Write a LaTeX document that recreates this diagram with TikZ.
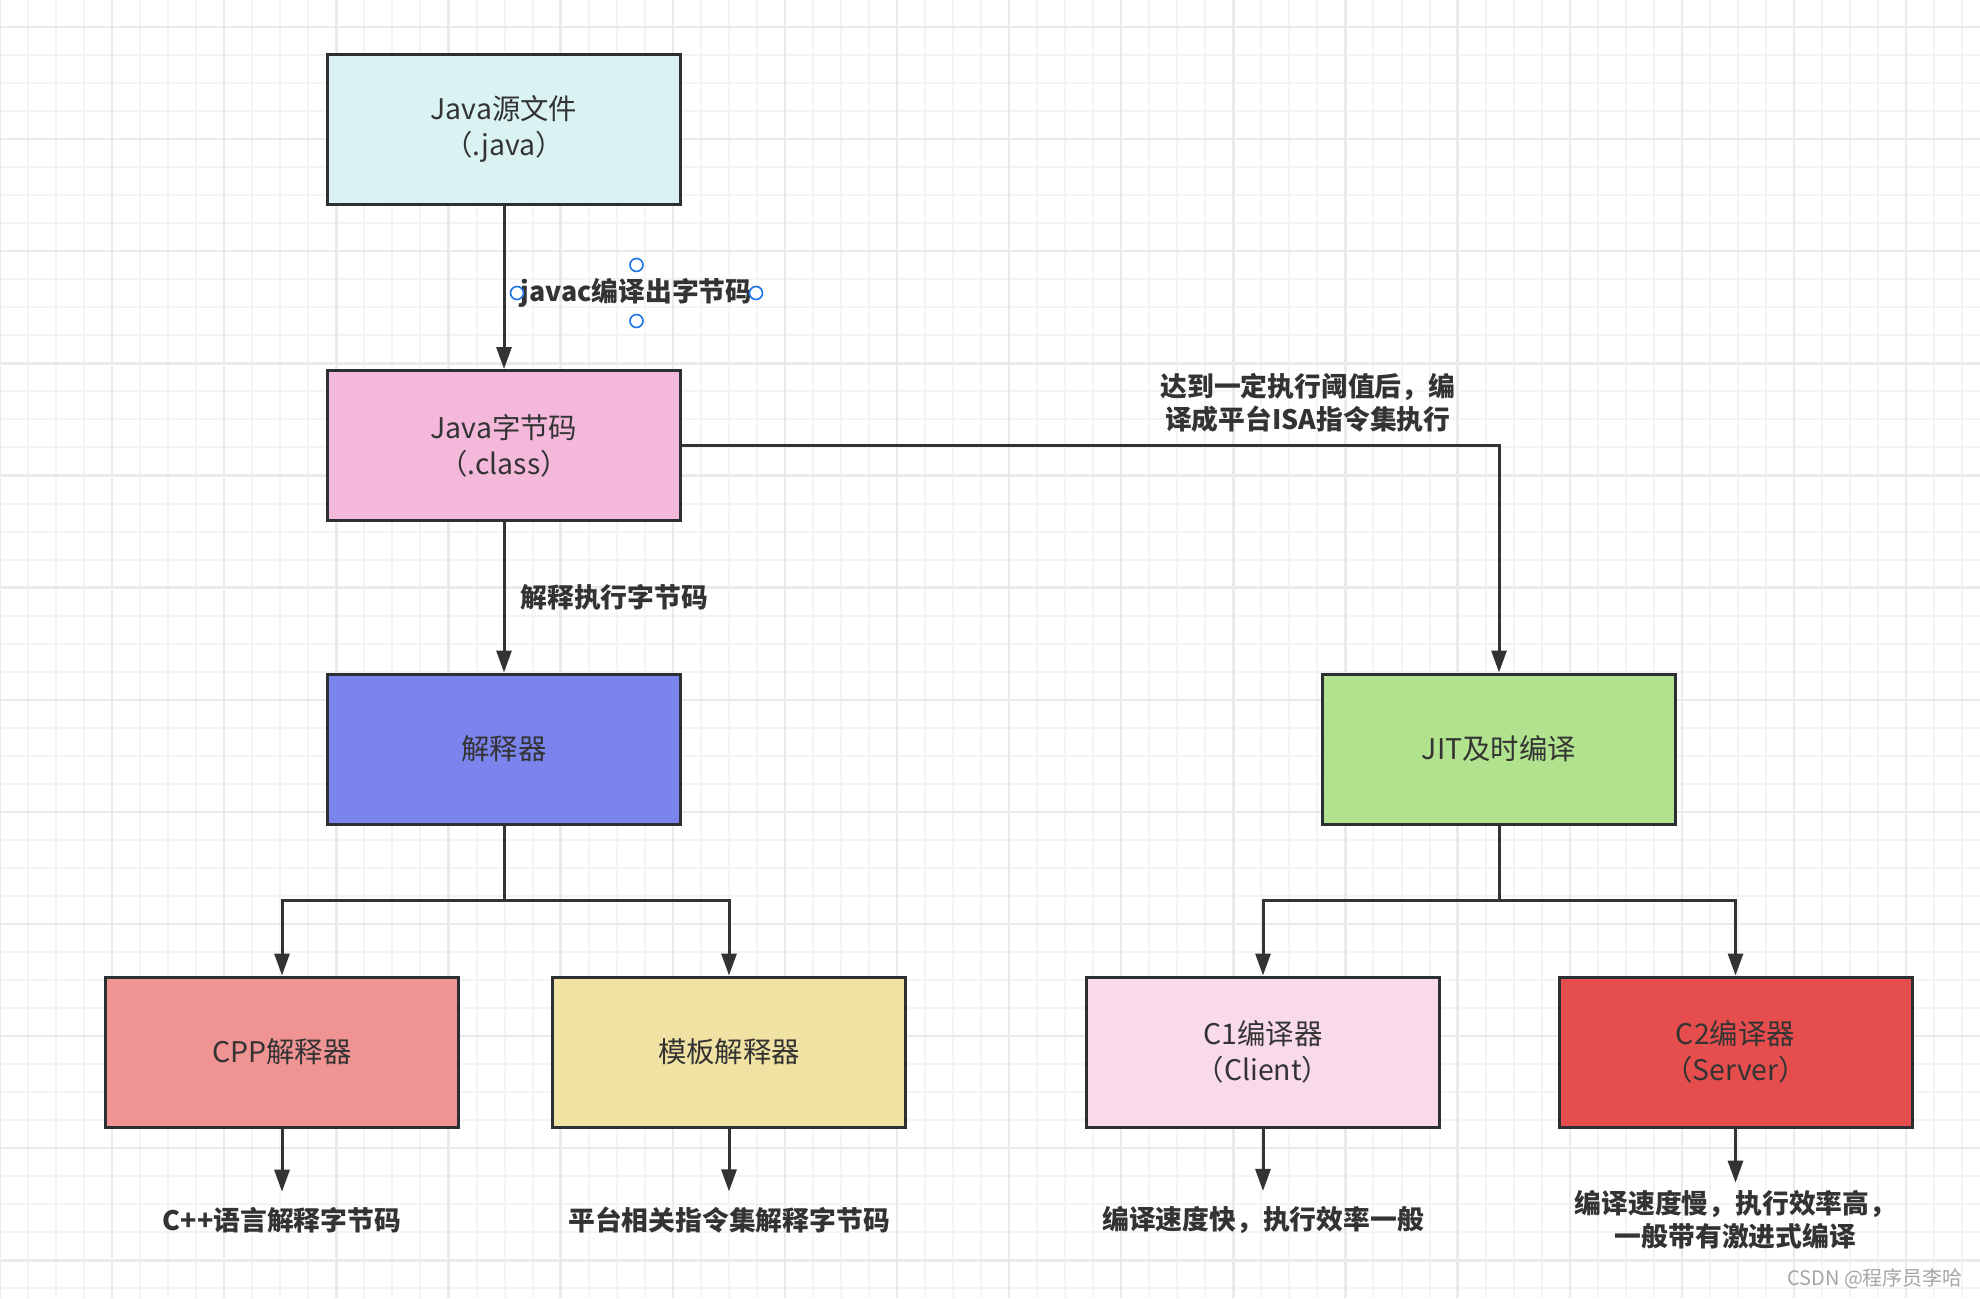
\documentclass[tikz,border=0pt]{standalone}
\usepackage{fontspec}
\setmainfont{Noto Sans CJK SC}
\usetikzlibrary{arrows.meta}
\definecolor{edge}{HTML}{2B3035}
\definecolor{arrowc}{HTML}{333333}
\definecolor{txt}{HTML}{333333}
\definecolor{srcfill}{HTML}{DAF3F2}
\definecolor{clsfill}{HTML}{F4B8DA}
\definecolor{interpfill}{HTML}{7A84EC}
\definecolor{jitfill}{HTML}{B1E28D}
\definecolor{cppfill}{HTML}{F09493}
\definecolor{tplfill}{HTML}{F0E2A2}
\definecolor{cofill}{HTML}{F9DAEA}
\definecolor{ctfill}{HTML}{E64E4E}
\definecolor{handblue}{HTML}{1A73E8}
\definecolor{gridminor}{HTML}{F4F4F4}
\definecolor{gridmajor}{HTML}{EAEAEA}
\definecolor{wmgray}{HTML}{A6A6A6}
\tikzstyle{line} = [draw=arrowc, line width=1.5pt, -{Triangle[length=11pt,width=7.5pt]}]
\tikzstyle{block} = [draw=edge, line width=1.5pt, rectangle, text centered, align=center, minimum width=176.5pt, minimum height=75pt, text=txt, font=\fontsize{14.2}{18}\selectfont]
\tikzstyle{lbl} = [text=txt, align=center, inner xsep=1pt, inner ysep=6pt, font=\bfseries\fontsize{13.4}{16.5}\selectfont]
\tikzstyle{handle} = [draw=handblue, line width=0.8pt, fill=white, circle, inner sep=0pt, minimum size=6.5pt]

\begin{document}
\begin{tikzpicture}
    \useasboundingbox (0,0) rectangle (990pt,-649pt);
    \fill[white] (0,0) rectangle (990pt,-649pt);
    \foreach \i in {0,...,70} \draw[gridminor, line width=1pt] (\i*14.015pt,0) -- (\i*14.015pt,-649pt);
    \foreach \j in {0,...,45} \draw[gridminor, line width=1pt] (0,-13.5pt-\j*14.015pt) -- (990pt,-13.5pt-\j*14.015pt);
    \foreach \i in {0,4,...,68} \draw[gridmajor, line width=1.2pt] (\i*14.015pt,0) -- (\i*14.015pt,-649pt);
    \foreach \j in {0,4,...,44} \draw[gridmajor, line width=1.2pt] (0,-13.5pt-\j*14.015pt) -- (990pt,-13.5pt-\j*14.015pt);

    \node[block, fill=srcfill] (src) at (252pt,-64.5pt) {Java源文件\\（.java）};
    \node[block, fill=clsfill, below of=src, node distance=158.25pt] (cls) {Java字节码\\（.class）};
    \node[block, fill=interpfill, below of=cls, node distance=151.75pt] (interp) {解释器};
    \node[block, fill=jitfill, right of=interp, node distance=497.5pt] (jit) {JIT及时编译};
    \node[block, fill=cppfill, below of=interp, node distance=151.5pt, xshift=-111pt] (cpp) {CPP解释器};
    \node[block, fill=tplfill, below of=interp, node distance=151.5pt, xshift=112.5pt] (tpl) {模板解释器};
    \node[block, fill=cofill, below of=jit, node distance=151.5pt, xshift=-118pt] (cone) {C1编译器\\（Client）};
    \node[block, fill=ctfill, below of=jit, node distance=151.5pt, xshift=118.25pt] (ctwo) {C2编译器\\（Server）};
    \node[lbl, inner ysep=7.5pt, below of=cpp, node distance=84pt] (cppnote) {C++语言解释字节码};
    \node[lbl, inner ysep=7.5pt, below of=tpl, node distance=84pt] (tplnote) {平台相关指令集解释字节码};
    \node[lbl, inner ysep=7.5pt, below of=cone, node distance=84pt] (conenote) {编译速度快，执行效率一般};
    \node[lbl, inner ysep=3.5pt, below of=ctwo, node distance=83.75pt] (ctwonote) {编译速度慢，执行效率高，\\一般带有激进式编译};

    \path[line] (src) -- node[lbl, pos=0.535, right, xshift=6.5pt] (javac) {javac编译出字节码} (cls);
    \foreach \a in {north,south,west,east} \node[handle] at (javac.\a) {};
    \path[line] (cls) -- node[lbl, midway, right, xshift=6.5pt] (interplbl) {解释执行字节码} (interp);
    \path[line] (cls) -| node[lbl, pos=0.383, above] (jitlbl) {达到一定执行阈值后，编\\译成平台ISA指令集执行} (jit);
    \path[line] (interp) -- +(0,-75.5pt) -| (cpp);
    \path[line] (interp) -- +(0,-75.5pt) -| (tpl);
    \path[line] (jit) -- +(0,-75.5pt) -| (cone);
    \path[line] (jit) -- +(0,-75.5pt) -| (ctwo);
    \path[line] (cpp) -- (cppnote);
    \path[line] (tpl) -- (tplnote);
    \path[line] (cone) -- (conenote);
    \path[line] (ctwo) -- (ctwonote);

    \node[anchor=east, text=wmgray, font=\fontsize{10}{12}\selectfont] (csdn) at (985pt,-639.5pt) {CSDN @程序员李哈};
\end{tikzpicture}
\end{document}
